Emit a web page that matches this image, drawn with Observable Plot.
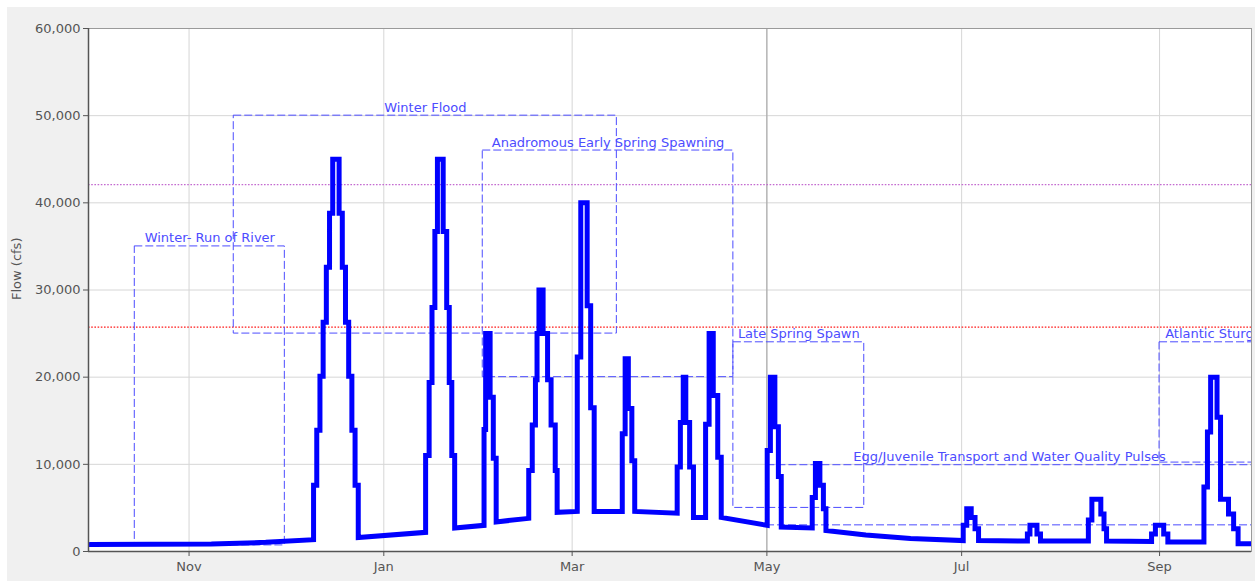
<!DOCTYPE html>
<html><head><meta charset="utf-8">
<script src="https://cdn.jsdelivr.net/npm/d3@7"></script>
<script src="https://cdn.jsdelivr.net/npm/@observablehq/plot@0.6"></script>
<style>
html,body{margin:0;padding:0;background:#fff;}
#wrap{position:relative;width:1255px;height:581px;overflow:hidden;}
#bg{position:absolute;left:7px;top:7px;right:0;bottom:0;background:#f0f0f0;}
#chart{position:absolute;left:0;top:0;}
</style></head><body>
<div id="wrap"><div id="bg"></div><div id="chart"></div></div>
<script>
// ---- data ----
const waterYearStartUTC = Date.UTC(2010, 9, 1); // Oct 1 (day 0 of the water year)
const monthTicks = ["2010-11-01","2011-01-01","2011-03-01","2011-05-01","2011-07-01","2011-09-01"];
const monthLabels = ["Nov","Jan","Mar","May","Jul","Sep"];
const flowTicks = [0,10000,20000,30000,40000,50000,60000];
const thresholdFlows = [42100, 25750];
const thresholdColors = ["#c46ad0", "#ff1a1a"];
const boxNames = ["Winter- Run of River","Winter Flood","Anadromous Early Spring Spawning","Late Spring Spawn","Egg/Juvenile Transport and Water Quality Pulses","Atlantic Sturgeon Spawning"];
const boxStart = ["2010-10-15","2010-11-15","2011-02-01","2011-04-20T12:00Z","2011-05-01","2011-09-01"];
const boxEnd   = ["2010-12-01","2011-03-15","2011-04-20T12:00Z","2011-05-31T12:00Z","2011-09-30","2011-10-31"];
const boxLow   = [700, 25000, 20000, 5000, 3000, 10200];
const boxHigh  = [35000, 50000, 46000, 24000, 9900, 24000];
// [day of water year, flow cfs, "s" = step change at that day / "r" = gradual change up to that day]
const hydrograph = [
  [0,800,"r"],[38,850,"r"],[55,1050,"r"],[70,1350,"r"],
  [70,7600,"s"],[71,13900,"s"],[72,20100,"s"],[73,26300,"s"],[74,32600,"s"],[75,38800,"s"],[76,45000,"s"],
  [78,38800,"s"],[79,32600,"s"],[80,26300,"s"],[81,20100,"s"],[82,13900,"s"],[83,7600,"s"],[84,1600,"s"],
  [105.1,2200,"r"],
  [105.1,11000,"s"],[106.2,19400,"s"],[107.1,28000,"s"],[108.0,36700,"s"],[108.8,45000,"s"],
  [110.6,36700,"s"],[111.7,28000,"s"],[112.5,19400,"s"],[113.3,11000,"s"],[114.2,2700,"s"],
  [123.4,3000,"r"],
  [123.4,14000,"s"],[123.9,25000,"s"],[125.3,17700,"s"],[126.3,10700,"s"],[127.2,3400,"s"],
  [137.4,3800,"r"],
  [137.4,9300,"s"],[138.5,14500,"s"],[139.5,19700,"s"],[140.0,25000,"s"],[140.6,30000,"s"],
  [141.9,25000,"s"],[143.3,19700,"s"],[144.4,14500,"s"],[145.7,9300,"s"],[146.3,4500,"s"],
  [152.6,4600,"r"],
  [152.6,22300,"s"],[153.7,40000,"s"],[155.7,28200,"s"],[156.8,16500,"s"],[157.9,4600,"s"],
  [166.7,4600,"r"],
  [166.7,13500,"s"],[167.6,22100,"s"],[168.6,16400,"s"],[169.7,10400,"s"],[170.6,4600,"s"],
  [183.9,4400,"r"],
  [183.9,9700,"s"],[184.9,14800,"s"],[185.8,20000,"s"],[186.6,14800,"s"],[187.8,9700,"s"],[189.0,3900,"s"],
  [192.8,3900,"r"],
  [192.8,14600,"s"],[193.9,25000,"s"],[195.2,17900,"s"],[196.6,10800,"s"],[197.7,3900,"s"],
  [212.1,3000,"r"],
  [212.1,11600,"s"],[213.1,20000,"s"],[214.5,14300,"s"],[215.6,8600,"s"],[216.5,2800,"s"],
  [226.2,2700,"r"],
  [226.2,6200,"s"],[227.2,10100,"s"],[228.6,7600,"s"],[229.7,4900,"s"],[230.5,2400,"s"],
  [243,1900,"r"],[257,1500,"r"],[273.5,1250,"r"],
  [273.5,3000,"s"],[274.6,4900,"s"],[276.0,3900,"s"],[277.2,2600,"s"],[278.3,1250,"s"],
  [293.6,1200,"r"],
  [293.6,2000,"s"],[294.4,3000,"s"],[296.6,2000,"s"],[297.7,1200,"s"],
  [312.7,1200,"r"],
  [312.7,3600,"s"],[313.8,6000,"s"],[316.6,4300,"s"],[317.6,2600,"s"],[318.4,1200,"s"],
  [332.5,1150,"r"],
  [332.5,2000,"s"],[333.7,3000,"s"],[336.3,2000,"s"],[337.6,1100,"s"],
  [348.9,1100,"r"],
  [348.9,7400,"s"],[350.0,13700,"s"],[351.0,20000,"s"],[353.0,15400,"s"],[354.1,6000,"s"],
  [356.6,4300,"s"],[358.2,2600,"s"],[359.6,900,"s"],
  [364,900,"r"]
];

// ---- build ----
const dayToDate = d => new Date(waterYearStartUTC + d * 864e5);
const tickDates = monthTicks.map(s => new Date(s));
const labelByTime = new Map(tickDates.map((d, i) => [+d, monthLabels[i]]));
const boxes = boxNames.map((name, i) => ({
  name, x1: new Date(boxStart[i]), x2: new Date(boxEnd[i]), low: boxLow[i], high: boxHigh[i]
}));
boxes.forEach(b => b.mid = new Date((+b.x1 + +b.x2) / 2));
const pts = [];
let prev = null;
for (const [d, q, k] of hydrograph) {
  const t = dayToDate(d);
  if (k === "s" && prev !== null) pts.push({t, q: prev});
  pts.push({t, q});
  prev = q;
}
const thresholds = thresholdFlows.map((v, i) => ({v, c: thresholdColors[i]}));
const xDomain = [dayToDate(-0.5), dayToDate(363.8)];
const boxBlue = "#4c4cff";

const chart = Plot.plot({
  width: 1255, height: 581,
  marginLeft: 88, marginRight: 4, marginTop: 28, marginBottom: 30,
  style: {background: "transparent", fontFamily: "DejaVu Sans", fontSize: "13px", color: "#555"},
  x: {type: "utc", domain: xDomain},
  y: {domain: [0, 60000]},
  marks: [
    Plot.frame({fill: "white", stroke: "none"}),
    Plot.gridX(tickDates, {stroke: "#d6d6d6", strokeOpacity: 1}),
    Plot.gridY(flowTicks, {stroke: "#d6d6d6", strokeOpacity: 1}),
    Plot.ruleX([tickDates[3]], {stroke: "#a0a0a0"}),
    Plot.ruleY(thresholds, {y: "v", stroke: "c", strokeWidth: 1.3, strokeDasharray: "1.6,1.6"}),
    Plot.rect(boxes, {x1: "x1", x2: "x2", y1: "low", y2: "high", fill: "none", stroke: boxBlue, strokeWidth: 1, strokeDasharray: "8,3", clip: true}),
    Plot.line(pts, {x: "t", y: "q", stroke: "#0000ff", strokeWidth: 5, strokeLinejoin: "miter", strokeMiterlimit: 10, clip: true}),
    Plot.text(boxes, {x: "mid", y: "high", text: "name", lineAnchor: "bottom", dy: -4, fill: boxBlue, fontSize: 13, clip: true}),
    Plot.frame({stroke: "#9a9a9a"}),
    Plot.ruleX([xDomain[0]], {stroke: "#555", strokeWidth: 1.5}),
    Plot.ruleY([0], {stroke: "#555", strokeWidth: 1.5}),
    Plot.axisX(tickDates, {tickFormat: d => labelByTime.get(+d), tickSize: 5, tickPadding: 5, fontSize: 13, fill: "#555", stroke: "#555", label: null}),
    Plot.axisY(flowTicks, {tickFormat: d3.format(","), tickSize: 5, tickPadding: 3, fontSize: 13, fill: "#555", stroke: "#555", label: null}),
    Plot.text(["Flow (cfs)"], {frameAnchor: "left", dx: -72, dy: 10, rotate: -90, fill: "#555", fontSize: 13})
  ]
});
document.getElementById("chart").appendChild(chart);
</script>
</body></html>
